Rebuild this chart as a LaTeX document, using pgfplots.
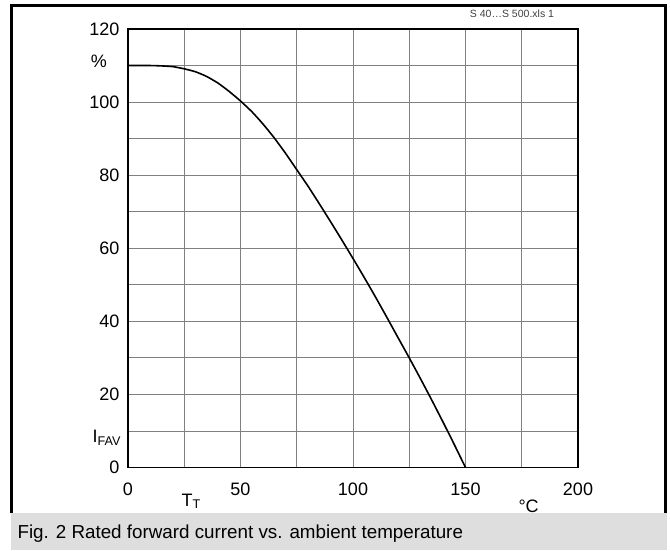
\documentclass[border=0pt]{standalone}
\usepackage{pgfplots}
\pgfplotsset{compat=1.18}
\usepackage{fontspec}
\setmainfont{Liberation Sans}
\begin{document}
\begin{tikzpicture}[x=1pt,y=1pt]
\useasboundingbox (0,0) rectangle (670,550);
\fill[white] (0,0) rectangle (670,550);
\fill[black!13] (11,0) rectangle (667,37);
\draw[line width=3pt] (11.5,37) -- (11.5,544.5) -- (665,544.5) -- (665,37);
\node[font=\fontsize{10.5}{12}\selectfont, text=black!75] at (512,536) {S 40…S 500.xls 1};
\node[anchor=base west, font=\fontsize{18.8}{22}\selectfont] at (14,12) {Fig. 2 Rated forward current vs. ambient temperature};
\begin{axis}[at={(128pt,82.5pt)}, anchor=south west, scale only axis,
  width=450pt, height=438.5pt,
  xmin=0, xmax=200, ymin=0, ymax=120,
  xtick={0,50,...,200}, minor xtick={25,75,125,175},
  ytick={0,20,...,120}, minor ytick={10,30,...,110},
  grid=both,
  major grid style={black!50, line width=0.8pt},
  minor grid style={black!50, line width=0.8pt},
  major tick length=0pt, minor tick length=0pt,
  axis line style={line width=1.6pt},
  ticklabel style={font=\fontsize{18}{21}\selectfont},
  xticklabel style={yshift=-12pt},
  yticklabel style={xshift=-5pt},
  /pgf/number format/assume math mode=true,
  clip=false]
\addplot[black, line width=1.6pt, smooth, tension=0.3] table {
x y
0 110
10 110
15 109.9
20 109.7
25 109.1
30 108.3
35 107.0
40 105.2
45 102.9
50 100.3
55 97.4
60 94.0
65 90.2
70 86.0
75 81.5
80 77.0
85 72.2
90 67.3
95 62.3
100 57.2
105 52.0
110 46.65
115 41.15
120 35.55
125 30
130 24.3
135 18.45
140 12.45
145 6.3
150 0
};
\node[font=\fontsize{18}{21}\selectfont] at (axis cs:0,110) [xshift=-29pt, yshift=4pt] {\%};
\node[anchor=base west, font=\fontsize{18}{21}\selectfont] at (axis cs:0,10) [xshift=-39pt, yshift=-12pt] {I\textsubscript{FAV}};
\node[anchor=base west, font=\fontsize{18}{21}\selectfont] at (axis cs:0,0) [xshift=50pt, yshift=-38.5pt] {T\textsubscript{T}};
\node[anchor=base west, font=\fontsize{18}{21}\selectfont] at (axis cs:200,0) [xshift=-63pt, yshift=-44.5pt] {°C};
\end{axis}
\end{tikzpicture}
\end{document}
